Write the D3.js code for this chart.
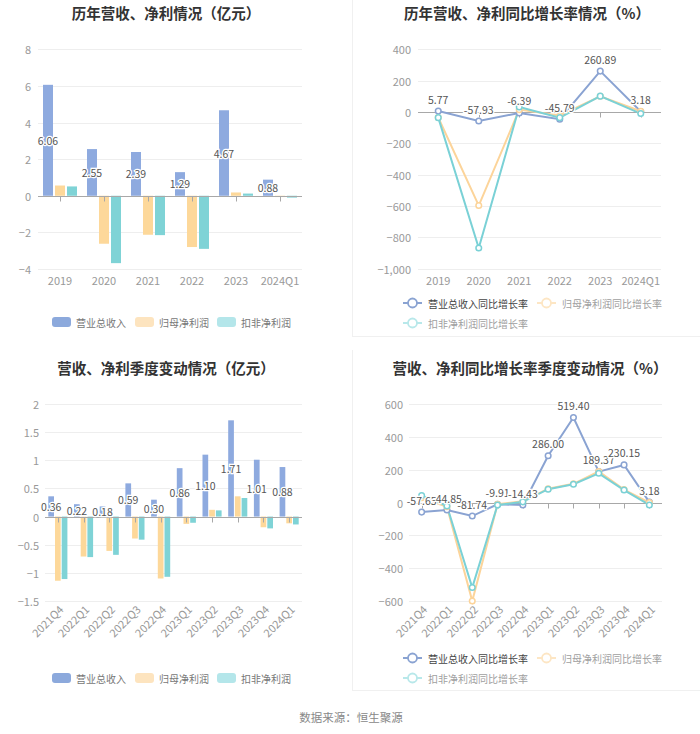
<!DOCTYPE html>
<html><head><meta charset="utf-8">
<script src="https://cdn.jsdelivr.net/npm/d3@7/dist/d3.min.js"></script>
<style>
body{margin:0;background:#fff;}
svg text{font-family:"Noto Sans CJK SC","Noto Sans",sans-serif;}
</style></head>
<body><svg id="c" width="700" height="734"></svg>
<script>
// ---------- data ----------
const years = ["2019","2020","2021","2022","2023","2024Q1"];
const revenue = [6.06,2.55,2.39,1.29,4.67,0.88];
const netProfit = [0.56,-2.62,-2.13,-2.80,0.18,-0.07];
const deductedProfit = [0.51,-3.68,-2.15,-2.90,0.12,-0.10];
const revenueYoY = [5.77,-57.93,-6.39,-45.79,260.89,3.18];
const netProfitYoY = [-35,-597,15,-22,100,5];
const deductedYoY = [-36,-868,32,-36,101,-10];

const quarters = ["2021Q4","2022Q1","2022Q2","2022Q3","2022Q4","2023Q1","2023Q2","2023Q3","2023Q4","2024Q1"];
const qRevenue = [0.36,0.22,0.18,0.59,0.30,0.86,1.10,1.71,1.01,0.88];
const qNetProfit = [-1.14,-0.71,-0.61,-0.39,-1.10,-0.13,0.12,0.36,-0.19,-0.12];
const qDeducted = [-1.11,-0.72,-0.68,-0.41,-1.07,-0.11,0.11,0.33,-0.21,-0.14];
const qRevenueYoY = [-57.65,-44.85,-81.74,-9.91,-14.43,286.00,519.40,189.37,230.15,3.18];
const qNetProfitYoY = [30,-25,-600,-10,8,85,115,190,80,0];
const qDeductedYoY = [43,-20,-518,-14,5,82,112,179,77,-14];

const yTicksTL = [-4,-2,0,2,4,6,8];
const yTicksTR = [-1000,-800,-600,-400,-200,0,200,400];
const yTicksBL = [-1.5,-1,-0.5,0,0.5,1,1.5,2];
const yTicksBR = [-600,-400,-200,0,200,400,600];

const barNames = ["营业总收入","归母净利润","扣非净利润"];
const lineNames = ["营业总收入同比增长率","归母净利润同比增长率","扣非净利润同比增长率"];

// ---------- styles ----------
const barColors = ["#8eaadf","#fdd89a","#7fd3d6"];
const legendBarColors = ["#8ca9dc","#fde4bf","#b4e6ea"];
const lineColors = ["#8aa3d2","#fcd49a","#7ad1d6"];
const legendLineColors = ["#8aa3d2","#fde6c4","#b8e8ea"];
const gridColor = "#eeeeee", axisColor = "#a8a8a8", tickText = "#999";

const svg = d3.select("#c");

// panel borders
svg.append("line").attr("x1",352.5).attr("x2",352.5).attr("y1",0).attr("y2",336).attr("stroke","#f0f0f0");
svg.append("line").attr("x1",352).attr("x2",700).attr("y1",336.5).attr("y2",336.5).attr("stroke","#f0f0f0");
svg.append("line").attr("x1",352.5).attr("x2",352.5).attr("y1",350).attr("y2",690).attr("stroke","#f0f0f0");
svg.append("line").attr("x1",352).attr("x2",700).attr("y1",690.5).attr("y2",690.5).attr("stroke","#f0f0f0");

function title(x,y,t){
  svg.append("text").attr("x",x).attr("y",y).attr("text-anchor","middle")
    .attr("dominant-baseline","central").attr("font-size",14.5).attr("font-weight","bold")
    .attr("fill","#333").text(t);
}

function frame(cfg){
  const g = svg.append("g");
  const x = d3.scaleBand().domain(cfg.cats).range(cfg.xr);
  const y = d3.scaleLinear().domain(cfg.yd).range(cfg.yr);
  g.selectAll(".grid").data(cfg.ticks.filter(t=>t!==0)).join("line")
    .attr("x1",cfg.xr[0]).attr("x2",cfg.xr[1])
    .attr("y1",d=>Math.round(y(d))+0.5).attr("y2",d=>Math.round(y(d))+0.5)
    .attr("stroke",gridColor);
  g.selectAll(".yl").data(cfg.ticks).join("text")
    .attr("x",cfg.ylx).attr("y",d=>y(d)).attr("text-anchor","end")
    .attr("dominant-baseline","central").attr("font-size",11).attr("fill",tickText)
    .text(d=>d3.format(",")(d));
  const xl = g.selectAll(".xl").data(cfg.cats).join("text")
    .attr("font-size",11).attr("fill",tickText).text(d=>d);
  if(cfg.rotate){
    xl.attr("text-anchor","end").attr("dominant-baseline","central")
      .attr("transform",d=>`translate(${x(d)+x.bandwidth()/2+3},${cfg.xly}) rotate(-45)`);
  } else {
    xl.attr("x",d=>x(d)+x.bandwidth()/2).attr("y",cfg.xly).attr("text-anchor","middle")
      .attr("dominant-baseline","central");
  }
  return {g,x,y};
}

function zeroAxis(f,cfg){
  const y0 = Math.round(f.y(0))+0.5;
  f.g.append("line").attr("x1",cfg.xr[0]).attr("x2",cfg.xr[1]).attr("y1",y0).attr("y2",y0)
    .attr("stroke",axisColor);
  f.g.selectAll(".tk").data(cfg.cats).join("line")
    .attr("x1",d=>Math.round(f.x(d)+f.x.bandwidth()/2)+0.5).attr("x2",d=>Math.round(f.x(d)+f.x.bandwidth()/2)+0.5)
    .attr("y1",y0).attr("y2",y0+5).attr("stroke",axisColor);
}

function barChart(cfg, series){
  const f = frame(cfg);
  series.forEach((vals,i)=>{
    const off = (i-1)*cfg.step - cfg.bw/2;
    f.g.selectAll(".b"+i).data(vals).join("rect")
      .attr("x",(d,j)=>f.x(cfg.cats[j])+f.x.bandwidth()/2+off)
      .attr("width",cfg.bw)
      .attr("y",d=>Math.min(f.y(d),f.y(0)))
      .attr("height",d=>Math.abs(f.y(d)-f.y(0)))
      .attr("fill",barColors[i]);
  });
  zeroAxis(f,cfg);
  f.g.selectAll(".lb").data(series[0]).join("text")
    .attr("x",(d,j)=>f.x(cfg.cats[j])+f.x.bandwidth()/2-cfg.step)
    .attr("y",d=>(f.y(d)+f.y(0))/2)
    .attr("text-anchor","middle").attr("dominant-baseline","central")
    .attr("font-size",10.5).attr("fill","#555")
    .attr("stroke","#fff").attr("stroke-width",2.5).attr("paint-order","stroke")
    .text(d=>d.toFixed(2));
  const lg = svg.append("g");
  cfg.legendX.forEach((lx,i)=>{
    lg.append("rect").attr("x",lx).attr("y",cfg.legendY-5).attr("width",19).attr("height",10)
      .attr("rx",3).attr("fill",legendBarColors[i]);
    lg.append("text").attr("x",lx+24).attr("y",cfg.legendY).attr("dominant-baseline","central")
      .attr("font-size",10).attr("fill","#777").text(barNames[i]);
  });
}

function lineChart(cfg, series){
  const f = frame(cfg);
  zeroAxis(f,cfg);
  const cx = j=>f.x(cfg.cats[j])+f.x.bandwidth()/2;
  const line = d3.line().x((d,j)=>cx(j)).y(d=>f.y(d));
  series.forEach((vals,i)=>{
    f.g.append("path").datum(vals).attr("d",line).attr("fill","none")
      .attr("stroke",lineColors[i]).attr("stroke-width",2);
  });
  series.forEach((vals,i)=>{
    f.g.selectAll(".p"+i).data(vals).join("circle")
      .attr("cx",(d,j)=>cx(j)).attr("cy",d=>f.y(d)).attr("r",2.8)
      .attr("fill","#fff").attr("stroke",lineColors[i]).attr("stroke-width",1.5);
  });
  f.g.selectAll(".lb").data(series[0]).join("text")
    .attr("x",(d,j)=>cx(j)).attr("y",d=>f.y(d)-12)
    .attr("text-anchor","middle").attr("dominant-baseline","central")
    .attr("font-size",10.5).attr("fill","#555")
    .attr("stroke","#fff").attr("stroke-width",2.5).attr("paint-order","stroke")
    .text(d=>d.toFixed(2));
  const pos = [[403,cfg.legendY],[537,cfg.legendY],[403,cfg.legendY+20]];
  const textCol = ["#444","#a0a0a0","#a0a0a0"];
  pos.forEach((p,i)=>{
    const lg = svg.append("g");
    lg.append("line").attr("x1",p[0]).attr("x2",p[0]+19).attr("y1",p[1]).attr("y2",p[1])
      .attr("stroke",legendLineColors[i]).attr("stroke-width",2);
    lg.append("circle").attr("cx",p[0]+9.5).attr("cy",p[1]).attr("r",4.5)
      .attr("fill","#fff").attr("stroke",legendLineColors[i]).attr("stroke-width",1.8);
    lg.append("text").attr("x",p[0]+25).attr("y",p[1]).attr("dominant-baseline","central")
      .attr("font-size",10).attr("fill",textCol[i]).text(lineNames[i]);
  });
}

// ---------- top-left ----------
title(166,12,"历年营收、净利情况（亿元）");
barChart({cats:years,xr:[38,302],yd:[-4,8],yr:[269,49.3],ticks:yTicksTL,ylx:31,xly:280,
  bw:10,step:12,legendX:[52,135,217],legendY:322},[revenue,netProfit,deductedProfit]);

// ---------- top-right ----------
title(527,12,"历年营收、净利同比增长率情况（%）");
lineChart({cats:years,xr:[418,661],yd:[-1000,400],yr:[268.7,49.3],ticks:yTicksTR,ylx:411,xly:280,
  legendY:303},[revenueYoY,netProfitYoY,deductedYoY]);

// ---------- bottom-left ----------
title(166,367,"营收、净利季度变动情况（亿元）");
barChart({cats:quarters,xr:[45,302],yd:[-1.5,2],yr:[601,404],ticks:yTicksBL,ylx:39,xly:607,rotate:true,
  bw:5.7,step:6.7,legendX:[52,135,217],legendY:678},[qRevenue,qNetProfit,qDeducted]);

// ---------- bottom-right ----------
title(530,367,"营收、净利同比增长率季度变动情况（%）");
lineChart({cats:quarters,xr:[409,662],yd:[-600,600],yr:[601,404.3],ticks:yTicksBR,ylx:403,xly:607,rotate:true,
  legendY:658},[qRevenueYoY,qNetProfitYoY,qDeductedYoY]);

svg.append("text").attr("x",351).attr("y",717).attr("text-anchor","middle")
  .attr("dominant-baseline","central").attr("font-size",11.5).attr("fill","#888")
  .text("数据来源：恒生聚源");
</script></body></html>
